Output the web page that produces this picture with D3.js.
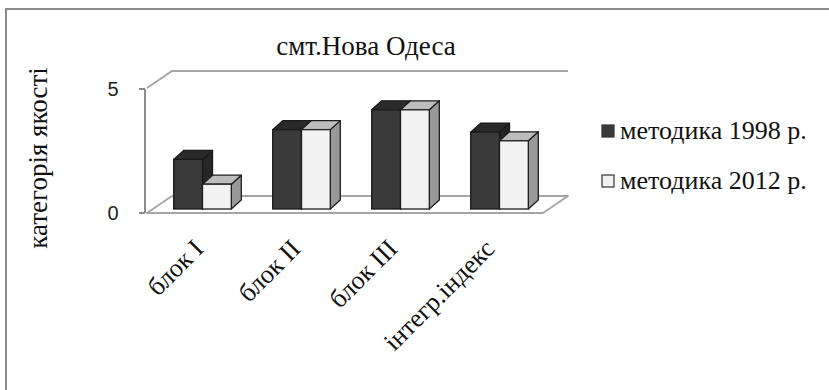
<!DOCTYPE html>
<html>
<head>
<meta charset="utf-8">
<script src="https://cdn.jsdelivr.net/npm/d3@7"></script>
<style>
  html, body { margin: 0; padding: 0; background: #fff; }
  svg { display: block; }
</style>
</head>
<body>
<svg id="chart" width="829" height="390"></svg>
<script>
// Quality category by assessment block, two methodologies
const categories = ["блок I", "блок II", "блок III", "інтегр.індекс"];
const seriesNames = ["методика 1998 р.", "методика 2012 р."];
const values1998 = [2, 3.2, 4, 3.1];
const values2012 = [1, 3.2, 4, 2.75];
const yTicks = [0, 5];
const titleText = "смт.Нова Одеса";
const yTitle = "категорія якості";

const svg = d3.select("#chart");
const serif = "'Liberation Serif', 'Times New Roman', serif";
const sans = "'Liberation Sans', Arial, sans-serif";

// outer frame
svg.append("rect")
  .attr("x", 6).attr("y", 9).attr("width", 900).attr("height", 500)
  .attr("fill", "none").attr("stroke", "#8a8a8a").attr("stroke-width", 2);

// 3D box geometry: front plane, floor depth vector, bar depth vector
const front = { left: 147, right: 543 };
const depth = { dx: 25, dy: -17 };
const barOff = { dx: 6, dy: -4 };
const barDepth = { dx: 10, dy: -9 };

const y = d3.scaleLinear().domain([0, 5]).range([213, 89]);

const x = d3.scaleBand()
  .domain(categories)
  .range([front.left + barOff.dx, front.right + barOff.dx])
  .paddingInner(0.418)
  .paddingOuter(0.209);

const sub = d3.scaleBand().domain([0, 1]).range([0, x.bandwidth()]);

const wallColor = "#a6a6a6";
const g = svg.append("g");

// floor
const fl = [
  [front.left, y(0)], [front.right, y(0)],
  [front.right + depth.dx, y(0) + depth.dy], [front.left + depth.dx, y(0) + depth.dy]
];
g.append("path")
  .attr("d", "M" + fl.map(p => p.join(",")).join("L") + "Z")
  .attr("fill", "none").attr("stroke", wallColor).attr("stroke-width", 2)
  .attr("stroke-linejoin", "round");

// side wall top edge and back wall top edge
g.append("path")
  .attr("d", `M${front.left},${y(5) - 1}L${front.left + depth.dx},${y(5) + depth.dy - 1}L${front.right + depth.dx},${y(5) + depth.dy - 1}`)
  .attr("fill", "none").attr("stroke", wallColor).attr("stroke-width", 2);

// vertical axis with ticks
const axisX = front.left - 2;
g.append("line")
  .attr("x1", axisX).attr("x2", axisX).attr("y1", y(5)).attr("y2", y(0))
  .attr("stroke", "#8c8c8c").attr("stroke-width", 2);
g.selectAll(".tick").data(yTicks).join("line")
  .attr("x1", axisX - 6).attr("x2", axisX).attr("y1", d => y(d)).attr("y2", d => y(d))
  .attr("stroke", "#8c8c8c").attr("stroke-width", 2);
g.selectAll(".ticklabel").data(yTicks).join("text")
  .attr("x", 113).attr("y", d => y(d)).attr("dy", "0.36em")
  .attr("text-anchor", "middle")
  .style("font-family", sans).style("font-size", "20px").attr("fill", "#222")
  .text(d => d);

// 3D bars
const styles = [
  { front: "#3a3a3a", top: "#2a2a2a", side: "#262626", stroke: "#1a1a1a" },
  { front: "#f2f2f2", top: "#bdbdbd", side: "#999999", stroke: "#1e1e1e" }
];

function poly(pts) { return "M" + pts.map(p => p.join(",")).join("L") + "Z"; }

const bars = [];
categories.forEach((c, i) => {
  [values1998[i], values2012[i]].forEach((v, s) => {
    bars.push({ c, s, v });
  });
});

const barG = g.append("g");
bars.forEach(b => {
  const x0 = x(b.c) + sub(b.s);
  const x1 = x0 + sub.bandwidth();
  const yb = y(0) + barOff.dy;
  const yt = y(b.v) + barOff.dy;
  const st = styles[b.s];
  const dx = barDepth.dx, dy = barDepth.dy;
  const bg = barG.append("g");
  // side face
  bg.append("path").attr("d", poly([[x1, yt], [x1 + dx, yt + dy], [x1 + dx, yb + dy], [x1, yb]]))
    .attr("fill", st.side).attr("stroke", st.stroke).attr("stroke-width", 1.3).attr("stroke-linejoin", "round");
  // top face
  bg.append("path").attr("d", poly([[x0, yt], [x0 + dx, yt + dy], [x1 + dx, yt + dy], [x1, yt]]))
    .attr("fill", st.top).attr("stroke", st.stroke).attr("stroke-width", 1.3).attr("stroke-linejoin", "round");
  // front face
  bg.append("rect").attr("x", x0).attr("y", yt).attr("width", x1 - x0).attr("height", yb - yt)
    .attr("fill", st.front).attr("stroke", st.stroke).attr("stroke-width", 1.3);
});

// category labels, rotated
svg.selectAll(".cat").data(categories).join("text")
  .attr("transform", (d, i) => `translate(${x(d) + x.bandwidth() / 2 - 4 - 2 * i},${244}) rotate(-45)`)
  .attr("text-anchor", "end")
  .attr("dy", "0.35em")
  .style("font-family", serif).style("font-size", "26px").attr("fill", "#111")
  .text(d => d);

// title
svg.append("text")
  .attr("x", 366).attr("y", 55).attr("text-anchor", "middle")
  .style("font-family", serif).style("font-size", "27px").attr("fill", "#111")
  .text(titleText);

// y axis title
svg.append("text")
  .attr("transform", "translate(47,158) rotate(-90)")
  .attr("text-anchor", "middle")
  .style("font-family", serif).style("font-size", "27px").attr("fill", "#111")
  .text(yTitle);

// legend
const legend = svg.append("g");
seriesNames.forEach((name, i) => {
  const ly = 130 + i * 50;
  legend.append("rect")
    .attr("x", 602).attr("y", ly - 5).attr("width", 12).attr("height", 12)
    .attr("fill", styles[i].front).attr("stroke", "#333").attr("stroke-width", 1.2);
  legend.append("text")
    .attr("x", 620).attr("y", ly).attr("dy", "0.35em")
    .style("font-family", serif).style("font-size", "26px").attr("fill", "#111")
    .text(name);
});
</script>
</body>
</html>
